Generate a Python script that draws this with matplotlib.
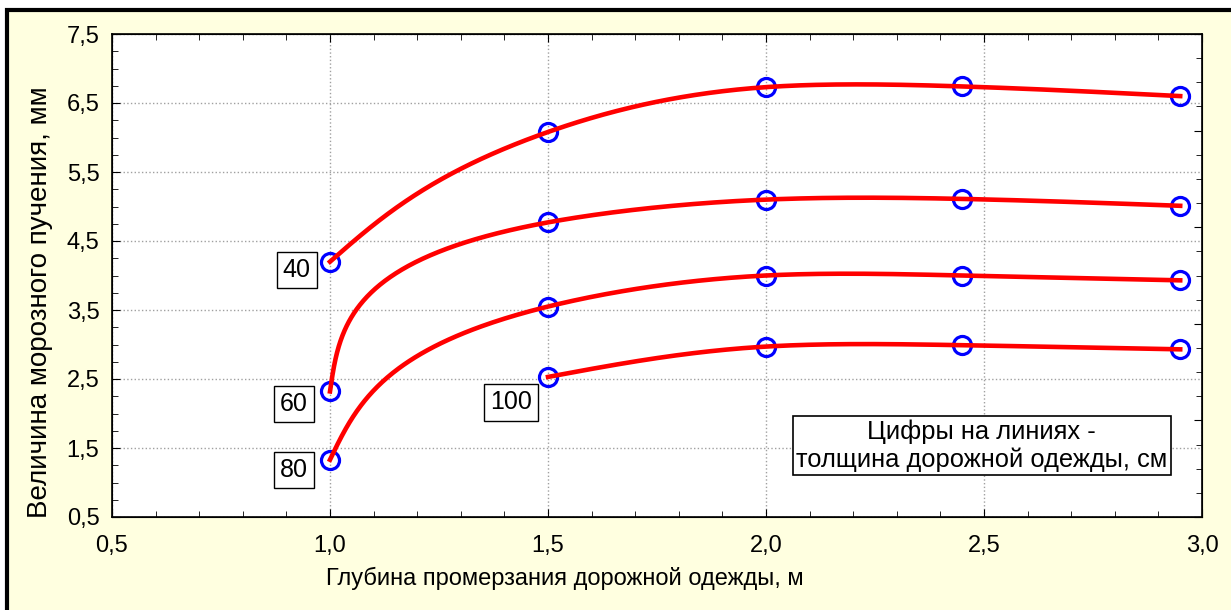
import numpy as np
import matplotlib.pyplot as plt
from matplotlib.patches import Rectangle
from matplotlib.ticker import MultipleLocator, FixedLocator

plt.rcParams['font.family'] = ['Liberation Sans', 'DejaVu Sans']

# данные
x_40 = [1.0, 1.5, 2.0, 2.45, 2.95]
y_40 = [4.20, 6.08, 6.73, 6.74, 6.60]
x_60 = [1.0, 1.5, 2.0, 2.45, 2.95]
y_60 = [2.32, 4.77, 5.10, 5.11, 5.01]
x_80 = [1.0, 1.5, 2.0, 2.45, 2.95]
y_80 = [1.33, 3.55, 4.00, 4.00, 3.93]
x_100 = [1.5, 2.0, 2.45, 2.95]
y_100 = [2.53, 2.97, 2.99, 2.93]

line_labels = ['40', '60', '80', '100']
label_pos = [(0.924, 4.08), (0.917, 2.14), (0.917, 1.18), (1.415, 2.16)]


def natural_spline(t, y, tt):
    t = np.asarray(t, float); y = np.asarray(y, float)
    n = len(t); h = np.diff(t)
    A = np.zeros((n, n)); r = np.zeros(n)
    A[0, 0] = 1; A[-1, -1] = 1
    for i in range(1, n - 1):
        A[i, i - 1] = h[i - 1]; A[i, i] = 2 * (h[i - 1] + h[i]); A[i, i + 1] = h[i]
        r[i] = 6 * ((y[i + 1] - y[i]) / h[i] - (y[i] - y[i - 1]) / h[i - 1])
    M = np.linalg.solve(A, r)
    k = np.clip(np.searchsorted(t, tt) - 1, 0, n - 2)
    hk = h[k]; a = t[k + 1] - tt; b = tt - t[k]
    return (M[k] * a**3 + M[k + 1] * b**3) / (6 * hk) + \
        (y[k] / hk - M[k] * hk / 6) * a + (y[k + 1] / hk - M[k + 1] * hk / 6) * b


# сглаженная линия через точки (параметрический сплайн)
def param_spline(x, y, sx=1.4, sy=1.0):
    x = np.asarray(x, float); y = np.asarray(y, float)
    d = np.hypot(np.diff(x) * sx, np.diff(y) * sy)
    t = np.concatenate([[0], np.cumsum(d)])
    tt = np.linspace(0, t[-1], 400)
    return natural_spline(t, x, tt), natural_spline(t, y, tt)


fig = plt.figure(figsize=(12.31, 6.10), dpi=100)
fig.patch.set_facecolor('white')
fig.add_artist(Rectangle((7 / 1231, -0.1), 1.2, 1 - 10 / 610 + 0.1,
                         transform=fig.transFigure, facecolor='#FFFFE0',
                         edgecolor='black', linewidth=3, zorder=-10))

ax = fig.add_axes([112 / 1231, 1 - 517 / 610, 1090 / 1231, 483 / 610])
ax.set_facecolor('white')
ax.set_xlim(0.5, 3.0)
ax.set_ylim(0.5, 7.5)
ax.xaxis.set_major_locator(MultipleLocator(0.5))
ax.xaxis.set_minor_locator(MultipleLocator(0.1))
ax.yaxis.set_major_locator(FixedLocator(np.arange(0.5, 7.6, 1.0)))
ax.yaxis.set_minor_locator(MultipleLocator(0.25))
ax.xaxis.set_major_formatter(lambda v, p: f'{v:.1f}'.replace('.', ','))
ax.yaxis.set_major_formatter(lambda v, p: f'{v:.1f}'.replace('.', ','))
ax.tick_params(which='both', direction='in', top=True, labelsize=17, color='black')
ax.tick_params(axis='x', which='major', length=6, pad=13)
ax.tick_params(axis='y', which='major', length=6, pad=9)
ax.tick_params(which='minor', length=4)
ax.grid(True, which='major', linestyle=':', color='#A0A0A0', linewidth=1)
for s in ax.spines.values():
    s.set_linewidth(1.2)

# правая ось - только засечки
ax2 = ax.twinx()
ax2.set_ylim(0, 5)
ax2.yaxis.set_major_locator(MultipleLocator(1))
ax2.yaxis.set_minor_locator(MultipleLocator(0.25))
ax2.tick_params(axis='y', which='both', direction='in', labelright=False)
ax2.tick_params(axis='y', which='major', length=6)
ax2.tick_params(axis='y', which='minor', length=4)

series = [(x_40, y_40), (x_60, y_60), (x_80, y_80), (x_100, y_100)]
for xs, ys in series:
    ax.plot(xs, ys, 'o', markersize=13, markerfacecolor='none',
            markeredgecolor='#0000FF', markeredgewidth=2.3, zorder=3)
    cx, cy = param_spline(xs, ys)
    ax.plot(cx, cy, color='#FF0000', linewidth=3.3, zorder=4)

for lab, (lx, ly) in zip(line_labels, label_pos):
    ax.text(lx, ly, lab, fontsize=18, ha='center', va='center', zorder=6,
            bbox=dict(boxstyle='square,pad=0.25', facecolor='white',
                      edgecolor='black', linewidth=1))

ax.text(2.495, 1.53, 'Цифры на линиях -\nтолщина дорожной одежды, см',
        fontsize=18.4, ha='center', va='center', linespacing=1.2, zorder=6,
        bbox=dict(boxstyle='square,pad=0.12', facecolor='white',
                  edgecolor='black', linewidth=1.2))

ax.set_xlabel('Глубина промерзания дорожной одежды, м', fontsize=17)
ax.set_ylabel('Величина морозного пучения, мм', fontsize=20)
ax.xaxis.set_label_coords(0.4156, -0.1263)
ax.xaxis.label.set_va('center')
ax.yaxis.set_label_coords(-0.066, 0.445)
ax.yaxis.label.set_va('center')

fig.savefig('out.png', dpi=100)
